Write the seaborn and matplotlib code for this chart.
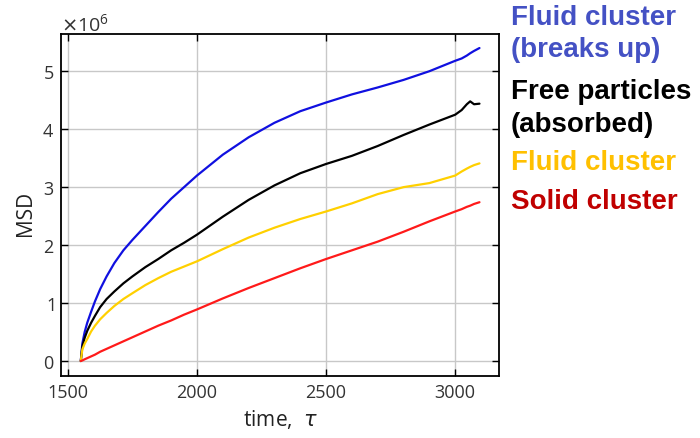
import numpy as np
import pandas as pd
import matplotlib
matplotlib.use("Agg")
import matplotlib.pyplot as plt
from matplotlib.ticker import ScalarFormatter
import seaborn as sns

# Mean squared displacement (in units of 1e6) versus time
time = [1550, 1556, 1565, 1575, 1590, 1605, 1625, 1650, 1680, 1715, 1750,
        1800, 1850, 1900, 1950, 2000, 2100, 2200, 2300, 2400, 2500,
        2600, 2700, 2800, 2900, 3000, 3025, 3045, 3058, 3073, 3094]

msd_fluid_breaks = [0.0, 0.30, 0.50, 0.66, 0.85, 1.03, 1.24, 1.46, 1.69, 1.91, 2.09,
                    2.33, 2.57, 2.80, 3.00, 3.20, 3.56, 3.86, 4.11, 4.31, 4.46,
                    4.60, 4.72, 4.85, 5.00, 5.18, 5.22, 5.27, 5.31, 5.35, 5.40]
msd_free = [0.0, 0.25, 0.40, 0.52, 0.66, 0.78, 0.93, 1.07, 1.20, 1.34, 1.46,
            1.62, 1.76, 1.91, 2.04, 2.18, 2.49, 2.78, 3.03, 3.24, 3.40,
            3.54, 3.71, 3.90, 4.08, 4.25, 4.33, 4.43, 4.48, 4.43, 4.44]
msd_fluid = [0.0, 0.20, 0.30, 0.38, 0.51, 0.61, 0.72, 0.83, 0.95, 1.07, 1.17,
             1.31, 1.43, 1.54, 1.63, 1.72, 1.93, 2.13, 2.30, 2.45, 2.58,
             2.72, 2.88, 3.00, 3.07, 3.20, 3.27, 3.32, 3.35, 3.38, 3.41]
msd_solid = [0.0, 0.01, 0.03, 0.05, 0.08, 0.11, 0.16, 0.21, 0.27, 0.34, 0.41,
             0.51, 0.61, 0.70, 0.80, 0.89, 1.08, 1.26, 1.43, 1.60, 1.76,
             1.91, 2.06, 2.23, 2.41, 2.58, 2.62, 2.66, 2.68, 2.71, 2.74]

series_names = ["Fluid cluster\n(breaks up)", "Free particles\n(absorbed)",
                "Fluid cluster", "Solid cluster"]
line_colors = ["#1010e0", "#000000", "#ffd000", "#ff1a1a"]
text_colors = ["#4451c4", "#000000", "#ffc000", "#c00000"]
xticks = [1500, 2000, 2500, 3000]
yticks = [0, 1, 2, 3, 4, 5]

frames = []
for name, vals in zip(series_names, [msd_fluid_breaks, msd_free, msd_fluid, msd_solid]):
    frames.append(pd.DataFrame({"time": time,
                                "msd": np.array(vals) * 1e6,
                                "series": name}))
df = pd.concat(frames, ignore_index=True)

sns.set_theme(style="ticks")
plt.rcParams["font.family"] = ["Open Sans", "DejaVu Sans"]

fig = plt.figure(figsize=(7.0, 4.39), dpi=100)
ax = fig.add_axes([0.087, 0.141, 0.626, 0.779])

sns.lineplot(data=df, x="time", y="msd", hue="series", hue_order=series_names,
             palette=dict(zip(series_names, line_colors)), linewidth=1.6,
             legend=False, ax=ax, sort=False, solid_joinstyle="round")

ax.set_xlim(1473, 3170)
ax.set_ylim(-0.26e6, 5.64e6)
ax.set_xticks(xticks)
ax.set_yticks([v * 1e6 for v in yticks])

fmt = ScalarFormatter(useMathText=True)
fmt.set_powerlimits((0, 0))
ax.yaxis.set_major_formatter(fmt)
ax.yaxis.get_offset_text().set_fontsize(14)
ax.yaxis.get_offset_text().set_color("#333333")

ax.grid(True, color="#c8c8c8", linewidth=1.0)
ax.set_axisbelow(True)
for sp in ax.spines.values():
    sp.set_linewidth(1.3)
    sp.set_color("black")
ax.tick_params(direction="in", top=True, right=True, length=5, width=1.0,
               labelsize=13, colors="black", labelcolor="#333333", pad=5)

ax.set_xlabel("time,  $\\tau$", fontsize=15, color="#222222", labelpad=4)
ax.set_ylabel("MSD", fontsize=15, color="#222222")
ax.yaxis.set_label_coords(-0.056, 0.48)

# Series labels to the right of the plot
label_lines = [("Fluid cluster", 0), ("(breaks up)", 0),
               ("Free particles", 1), ("(absorbed)", 1),
               ("Fluid cluster", 2), ("Solid cluster", 3)]
label_y = [18, 50, 92, 125, 163, 202]
for (txt, ci), yp in zip(label_lines, label_y):
    fig.text(511 / 700, 1 - yp / 439, txt, color=text_colors[ci],
             fontsize=20, fontweight="bold", family="Liberation Sans",
             ha="left", va="center")

fig.savefig("out.png", dpi=100)
